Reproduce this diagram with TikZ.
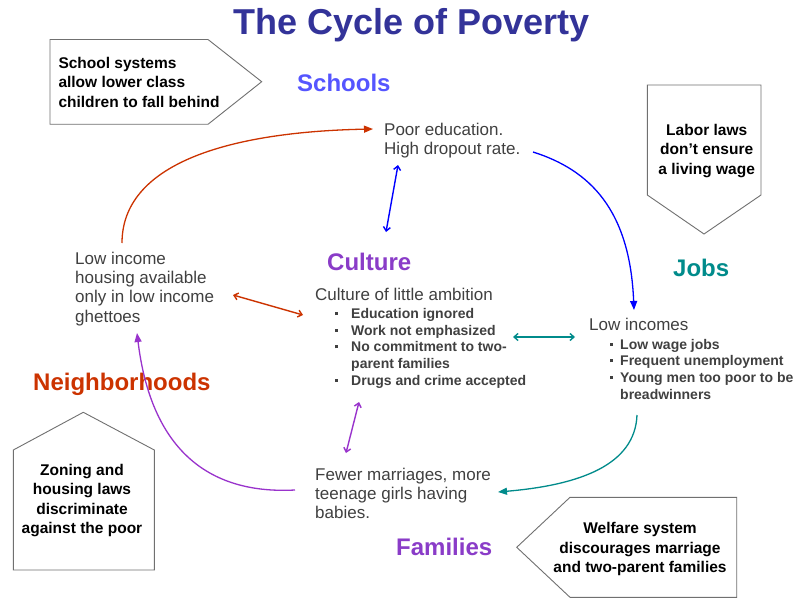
\documentclass[tikz,border=0pt]{standalone}
\usepackage{fontspec}
\setmainfont{Liberation Sans}
\usetikzlibrary{arrows.meta}
\definecolor{txt}{HTML}{404040}
\definecolor{ttl}{HTML}{333399}
\definecolor{cred}{HTML}{CC3300}
\definecolor{cblue}{HTML}{0000FF}
\definecolor{cteal}{HTML}{008B8B}
\definecolor{cpurp}{HTML}{9933CC}
\definecolor{lschool}{HTML}{5555FF}
\definecolor{lpurp}{HTML}{8A3CC8}
\definecolor{boxline}{HTML}{707070}
\newcommand\cpbul[1]{\makebox[#1][l]{\rule[3.6pt]{3pt}{3pt}}}
\begin{document}
\begin{tikzpicture}[x=1pt,y=-1pt,
  maintext/.style={font=\fontsize{17}{19.3}\selectfont, text=txt, inner sep=0pt, align=left, anchor=north west},
  bultext/.style={font=\fontsize{14}{16.6}\selectfont\bfseries, text=txt, inner sep=0pt, align=left, anchor=north west},
  lab/.style={font=\fontsize{24}{28}\selectfont\bfseries, inner sep=0pt, anchor=base west},
  calltext/.style={font=\fontsize{15.5}{19.4}\selectfont\bfseries, text=black, inner sep=0pt},
  callout/.style={draw=boxline, line width=0.9pt, fill=white},
  curve/.style={line width=1.3pt, -{Triangle[length=9pt,width=7pt]}},
  dbl/.style={line width=1.4pt, {Straight Barb[length=4pt,width=7pt]}-{Straight Barb[length=4pt,width=7pt]}}
]
\useasboundingbox (0,0) rectangle (808,607);
\fill[white] (0,0) rectangle (808,607);

% title and labels
\node[font=\fontsize{36}{40}\selectfont\bfseries, text=ttl, inner sep=0pt, anchor=base west] (title) at (233,35) {The Cycle of Poverty};
\node[lab, text=lschool] (lschools) at (297,91.5) {Schools};
\node[lab, text=lpurp] (lculture) at (327,270.5) {Culture};
\node[lab, text=cteal] (ljobs) at (673,276.5) {Jobs};
\node[lab, text=cred] (lneigh) at (33,390.5) {Neighborhoods};
\node[lab, text=lpurp] (lfam) at (396,555.5) {Families};

% callouts
\draw[callout] (50,39.5) -- (208,39.5) -- (261.7,81.7) -- (208,124.3) -- (50,124.3) -- cycle;
\node[calltext, align=left, anchor=north west] (cschool) at (58.3,56.8) {School systems\\allow lower class\\children to fall behind};
\draw[callout] (647.3,85) -- (761,85) -- (761,195) -- (704,234) -- (647.3,195) -- cycle;
\node[calltext, align=center, anchor=north] (clabor) at (706.7,123.8) {Labor laws\\don’t ensure\\a living wage};
\draw[callout] (83.3,412.3) -- (154.3,450) -- (154.3,570) -- (13.3,570) -- (13.3,450) -- cycle;
\node[calltext, align=center, anchor=north] (czoning) at (82,463.8) {Zoning and\\housing laws\\discriminate\\against the poor};
\draw[callout] (516.7,547.3) -- (570,497.3) -- (736.7,497.3) -- (736.7,597.3) -- (570,597.3) -- cycle;
\node[calltext, align=center, anchor=north] (cwelfare) at (640,522.3) {Welfare system\\discourages marriage\\and two-parent families};

% text blocks
\node[maintext] (poor) at (384,122.8) {Poor education.\\High dropout rate.};
\node[maintext] (housing) at (75,251.8) {Low income\\housing available\\only in low income\\ghettoes};
\node[maintext] (cult) at (315,287.8) {Culture of little ambition};
\node[bultext] (cultlist) at (335,308.4) {\cpbul{16pt}Education ignored\\\cpbul{16pt}Work not emphasized\\\cpbul{16pt}No commitment to two-\\\hspace*{16pt}parent families\\\cpbul{16pt}Drugs and crime accepted};
\node[maintext] (lowinc) at (589,317.8) {Low incomes};
\node[bultext] (inclist) at (609.5,338.9) {\cpbul{10.5pt}Low wage jobs\\\cpbul{10.5pt}Frequent unemployment\\\cpbul{10.5pt}Young men too poor to be\\\hspace*{10.5pt}breadwinners};
\node[maintext] (fewer) at (315,467.8) {Fewer marriages, more\\teenage girls having\\babies.};

% connector end points
\coordinate (rA) at (122,243);
\coordinate (rB) at (373,129);
\coordinate (bA) at (533,152);
\coordinate (bB) at (634,310);
\coordinate (tA) at (637,415);
\coordinate (tB) at (498,492);
\coordinate (pA) at (295,490);
\coordinate (pB) at (137,333);
\coordinate (d1a) at (398,165);
\coordinate (d1b) at (386,232);
\coordinate (d2a) at (233,295);
\coordinate (d2b) at (303,315);
\coordinate (d3a) at (513,337);
\coordinate (d3b) at (575,337);
\coordinate (d4a) at (359,402);
\coordinate (d4b) at (346,453);

% cycle curves
\draw[curve, cred] (rA) .. controls (122,165) and (225,132) .. (rB);
\draw[curve, cblue] (bA) .. controls (590,170) and (630,210) .. (bB);
\draw[curve, cteal] (tA) .. controls (635,465) and (580,485) .. (tB);
\draw[curve, cpurp] (pA) .. controls (200,495) and (150,440) .. (pB);

% double arrows
\draw[dbl, cblue] (d1a) -- (d1b);
\draw[dbl, cred] (d2a) -- (d2b);
\draw[dbl, cteal] (d3a) -- (d3b);
\draw[dbl, cpurp] (d4a) -- (d4b);
\end{tikzpicture}
\end{document}
